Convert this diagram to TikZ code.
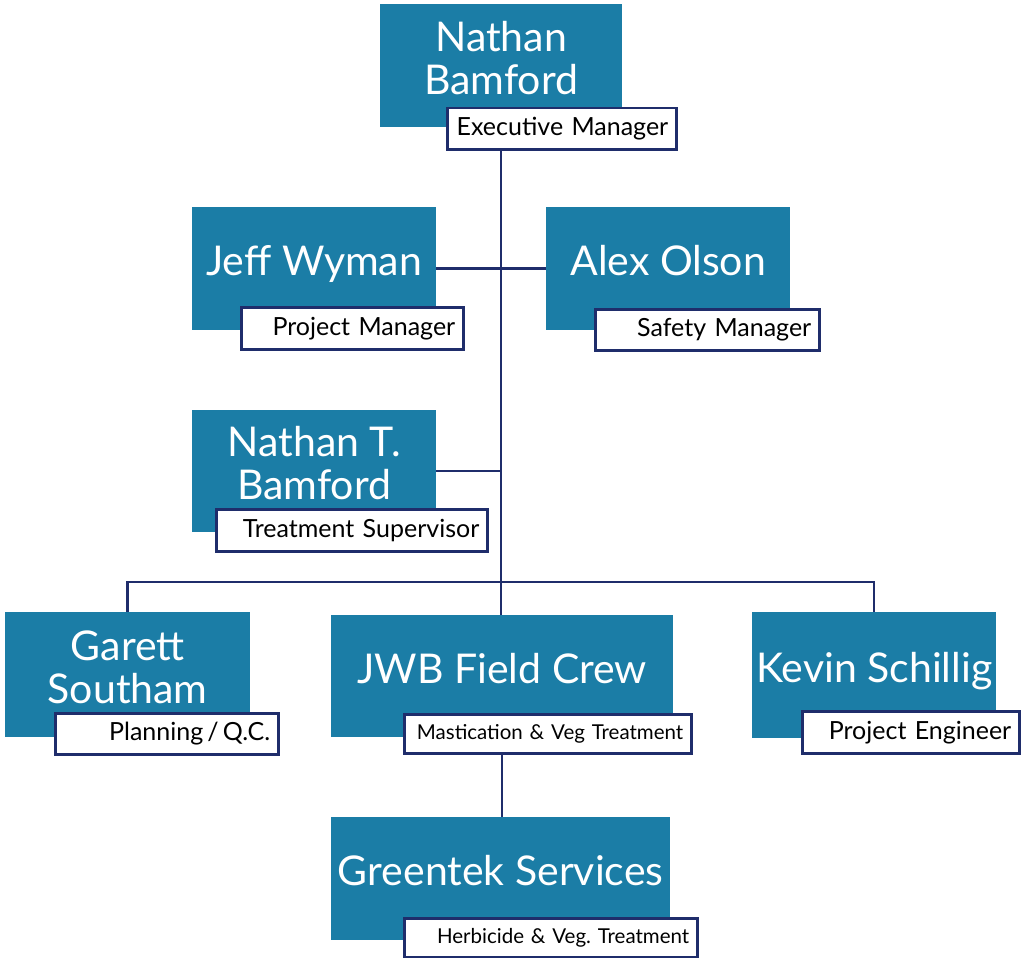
\documentclass[tikz,border=0pt]{standalone}
\usepackage{fontspec}
\setmainfont{Lato}
\usetikzlibrary{positioning,backgrounds}
\frenchspacing

\definecolor{teal}{HTML}{1B7DA6}
\definecolor{navy}{HTML}{1F2D6B}

\begin{document}
\begin{tikzpicture}[x=1pt,y=-1pt,
  person/.style={rectangle,fill=teal,text=white,anchor=north west,
    align=center,inner sep=0pt,text depth=16pt,font=\fontsize{41}{43}\selectfont},
  role/.style={rectangle,draw=navy,line width=2.5pt,fill=white,anchor=north west,
    align=right,inner ysep=0pt,inner xsep=8pt,font=\fontsize{25}{28}\selectfont},
  small role/.style={role,font=\fontsize{20.5}{24}\selectfont},
  link/.style={draw=navy,line width=2.5pt}
  ]
  \useasboundingbox (0,0) rectangle (1021,958);

  % people
  \node[person,minimum width=242pt,minimum height=123pt] (exec) at (380,4) {Nathan\\Bamford};
  \node[person,minimum width=244pt,minimum height=123pt] (projmgr) at (192,207) {Jeff Wyman};
  \node[person,minimum width=244pt,minimum height=123pt] (safety) at (546,207) {Alex Olson};
  \node[person,minimum width=244pt,minimum height=122pt] (treat) at (192,410) {Nathan T.\\Bamford};
  \node[person,minimum width=245pt,minimum height=125pt] (garett) at (5,612) {Garett\\Southam};
  \node[person,minimum width=342pt,minimum height=122pt] (jwb) at (331,615) {JWB Field Crew};
  \node[person,minimum width=244pt,minimum height=126pt] (kevin) at (752,612) {Kevin Schillig};
  \node[person,minimum width=339pt,minimum height=123pt] (greentek) at (331,817) {Greentek Services};

  % roles
  \node[role,text width=213pt,minimum height=41pt] (execrole) at (446,107) {Executive Manager};
  \node[role,text width=206pt,minimum height=42pt] (projmgrrole) at (240,306) {Project Manager};
  \node[role,text width=208pt,minimum height=41pt] (safetyrole) at (594,308) {Safety Manager};
  \node[role,text width=255pt,minimum height=42pt] (treatrole) at (215,508) {Treatment Supervisor};
  \node[role,text width=207pt,minimum height=41pt] (garettrole) at (54,712) {Planning\,/\,Q.C.};
  \node[small role,text width=271pt,minimum height=39pt] (jwbrole) at (403,713) {Mastication \& Veg Treatment};
  \node[role,text width=201pt,minimum height=42pt] (kevinrole) at (801,710) {Project Engineer};
  \node[small role,text width=277pt,minimum height=39pt] (greentekrole) at (403,917) {Herbicide \& Veg. Treatment};

  \coordinate (bus) at (501,582);

  \begin{scope}[on background layer]
    \draw[link] (exec.south) -- (exec.south |- jwb.north);
    \draw[link] (projmgr.east) -- (safety.west);
    \draw[link] (treat.east) -- (treat.east -| exec.south);
    \draw[link] (garett.north) |- (bus) -| (kevin.north);
    \draw[link] (jwb.south) -- (jwb.south |- greentek.north);
  \end{scope}
\end{tikzpicture}
\end{document}
